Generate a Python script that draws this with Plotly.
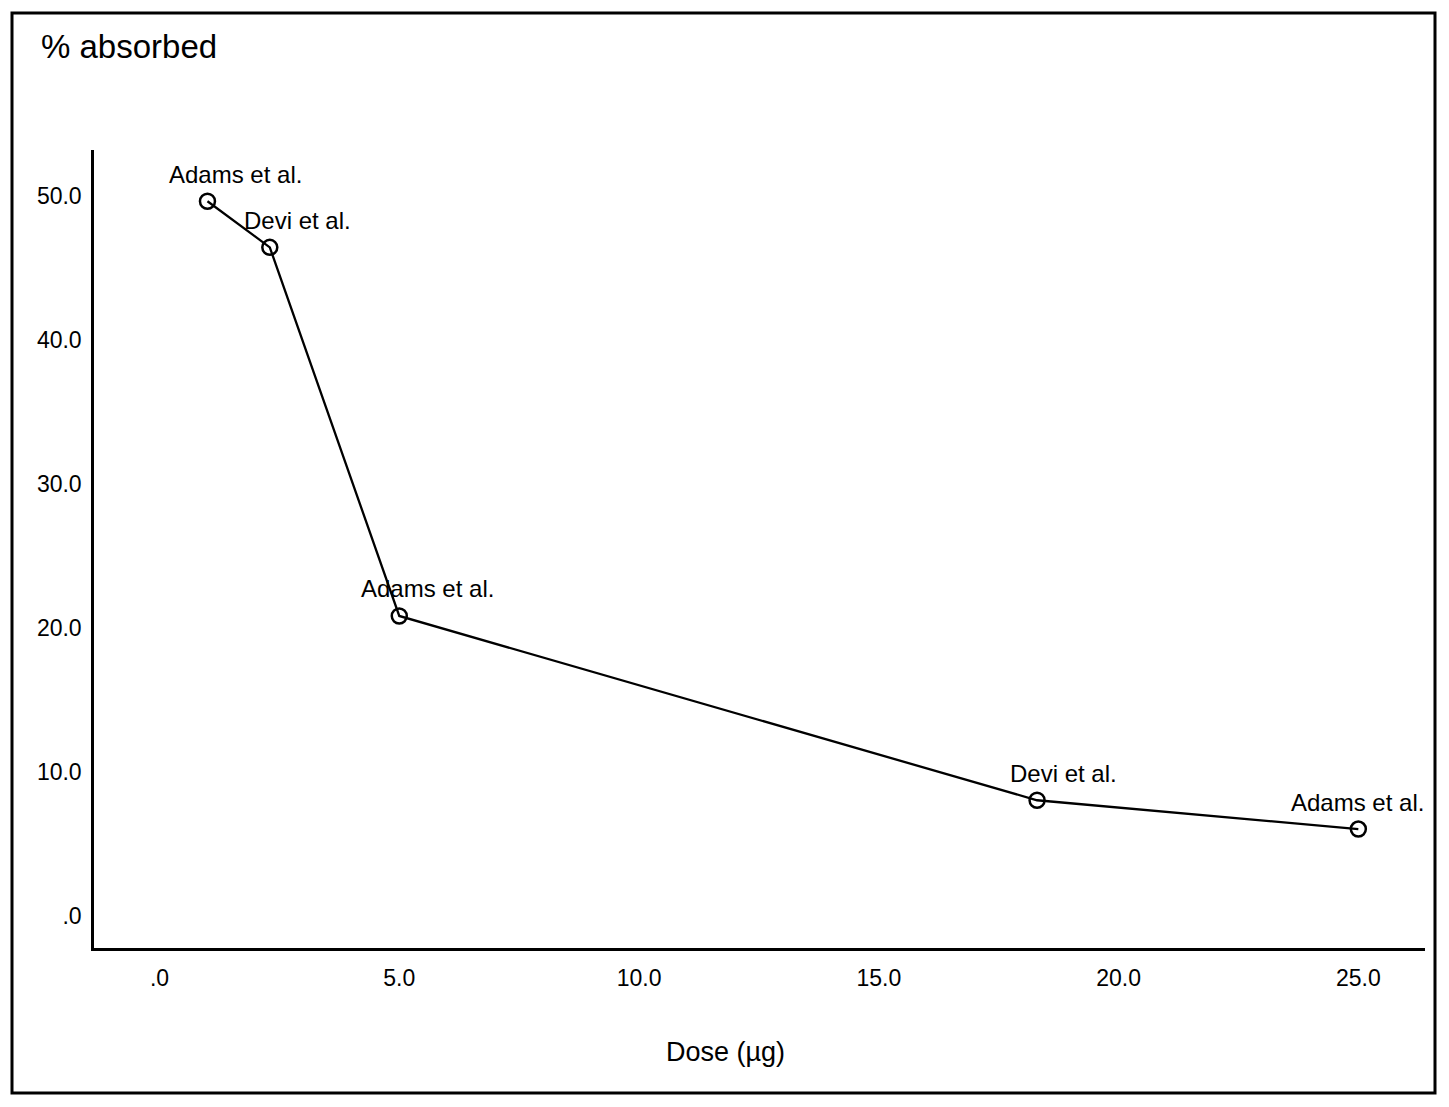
import plotly.graph_objects as go

# Data
dose = [1.0, 2.3, 5.0, 18.3, 25.0]
absorbed = [49.6, 46.4, 20.8, 8.0, 6.0]
study = ["Adams et al.", "Devi et al.", "Adams et al.", "Devi et al.", "Adams et al."]

x_tickvals = [0, 5, 10, 15, 20, 25]
x_ticktext = [".0", "5.0", "10.0", "15.0", "20.0", "25.0"]
y_tickvals = [0, 10, 20, 30, 40, 50]
y_ticktext = [".0", "10.0", "20.0", "30.0", "40.0", "50.0"]

FONT = "Liberation Sans, Arial, sans-serif"

fig = go.Figure()
fig.add_trace(go.Scatter(
    x=dose, y=absorbed, mode="lines+markers",
    line=dict(color="black", width=2.3),
    marker=dict(symbol="circle-open", size=15, color="black", line=dict(width=2.5)),
    showlegend=False, hoverinfo="skip",
))

label_xshift = [28, 28, 28, 26, -1]
for xv, yv, s, dx in zip(dose, absorbed, study, label_xshift):
    fig.add_annotation(x=xv, y=yv, text=s, showarrow=False, xref="x", yref="y",
                       xshift=dx, yshift=27, xanchor="center", yanchor="middle",
                       font=dict(family=FONT, size=24, color="black"))

fig.add_annotation(text="% absorbed", xref="paper", yref="paper",
                   x=(39 - 94) / 1331, y=(948 - 46) / 798, xanchor="left", yanchor="middle",
                   showarrow=False, font=dict(family=FONT, size=33, color="black"))
fig.add_annotation(text="Dose (µg)", xref="paper", yref="paper",
                   x=(725 - 94) / 1331, y=(948 - 1052) / 798, xanchor="center", yanchor="middle",
                   showarrow=False, font=dict(family=FONT, size=27, color="black"))

# outer frame
fig.add_shape(type="rect", xref="paper", yref="paper",
              x0=(12 - 94) / 1331, x1=(1435 - 94) / 1331,
              y0=(948 - 1093) / 798, y1=(948 - 13) / 798,
              line=dict(color="black", width=3), fillcolor="rgba(0,0,0,0)")

fig.update_layout(
    width=1449, height=1107,
    margin=dict(l=94, r=24, t=150, b=159),
    paper_bgcolor="white", plot_bgcolor="white",
    font=dict(family=FONT, color="black"),
    xaxis=dict(range=[-1.366, 26.39], tickvals=x_tickvals, ticktext=x_ticktext,
               showgrid=False, zeroline=False, showline=True, linecolor="black", linewidth=2.5,
               ticks="outside", ticklen=8, tickcolor="rgba(0,0,0,0)",
               tickfont=dict(family=FONT, size=23, color="black")),
    yaxis=dict(range=[-2.26, 53.16], tickvals=y_tickvals, ticktext=y_ticktext,
               showgrid=False, zeroline=False, showline=True, linecolor="black", linewidth=2.5,
               ticks="outside", ticklen=5, tickcolor="rgba(0,0,0,0)",
               tickfont=dict(family=FONT, size=23, color="black")),
)

fig.write_html("out.html")
